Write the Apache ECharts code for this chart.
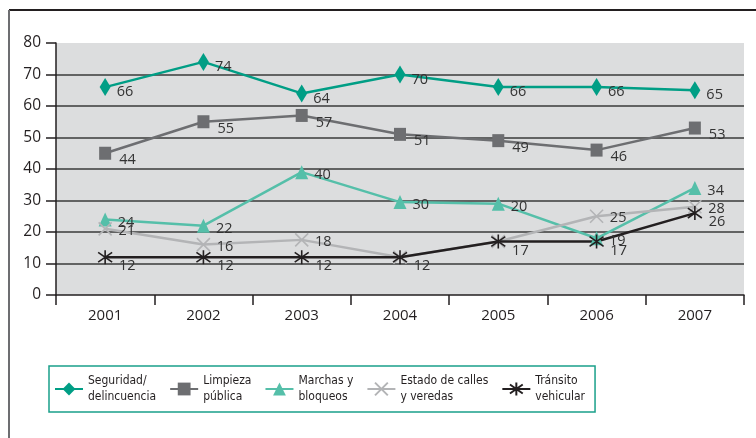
<!DOCTYPE html>
<html><head><meta charset="utf-8">
<script src="https://cdn.jsdelivr.net/npm/echarts@6/dist/echarts.min.js"></script>
<style>html,body{margin:0;padding:0;background:#fff}#c{width:756px;height:438px}</style>
</head><body><div id="c"></div>
<script>
const years = ['2001','2002','2003','2004','2005','2006','2007'];
const seguridad = [66, 74, 64, 70, 66, 66, 65];
const seguridadLabels = ['66','74','64','70','66','66','65'];
const limpieza = [45, 55, 57, 51, 49, 46, 53];
const limpiezaLabels = ['44','55','57','51','49','46','53'];
const marchas = [24, 22, 39, 29.5, 29, 18, 34];
const marchasLabels = ['24','22','40','30','20','19','34'];
const estado = [21, 16, 17.5, 12, 17, 25, 28];
const estadoLabels = ['21','16','18','','','25','28'];
const transito = [12, 12, 12, 12, 17, 17, 26];
const transitoLabels = ['12','12','12','12','17','17','26'];
const yTicks = [0, 10, 20, 30, 40, 50, 60, 70, 80];

const FONT = "'Open Sans', 'Noto Sans', sans-serif";
const NARROW = "'Liberation Sans Narrow', 'DejaVu Sans Condensed', sans-serif";

const chart = echarts.init(document.getElementById('c'), null, {renderer: 'canvas'});

function mk(name, vals, labels, color, symbol, size, offset, strokeSymbol) {
  return {
    name: name, type: 'line', data: vals,
    symbol: symbol, symbolSize: size,
    lineStyle: {color: color, width: 2.5},
    itemStyle: strokeSymbol ? {color: 'transparent', borderColor: color, borderWidth: 1.6} : {color: color},
    label: {
      show: true, position: 'right', offset: offset, distance: 4,
      fontFamily: FONT, fontSize: 14.5, color: '#333',
      formatter: p => labels[p.dataIndex]
    },
    emphasis: {disabled: true},
    z: 2
  };
}

const xPath = 'path://M0,0L10,10M10,0L0,10';
const astPath = 'path://M5,0L5,10M0,1.5L10,8.5M10,1.5L0,8.5';

chart.setOption({
  animation: false,
  backgroundColor: '#fff',
  grid: {left: 56, right: 12, top: 43, bottom: 143, show: true, backgroundColor: '#dcddde', borderWidth: 0},
  xAxis: {
    type: 'category', data: years, boundaryGap: true,
    axisLine: {show: true, lineStyle: {color: '#231f20', width: 1.5}},
    axisTick: {show: true, length: 10, alignWithLabel: false, lineStyle: {color: '#231f20', width: 1.5}},
    axisLabel: {fontFamily: FONT, fontSize: 15, color: '#231f20', margin: 13}
  },
  yAxis: {
    type: 'value', min: yTicks[0], max: yTicks[yTicks.length - 1], interval: 10,
    axisLine: {show: true, lineStyle: {color: '#231f20', width: 1.5}},
    axisTick: {show: true, length: 10, lineStyle: {color: '#231f20', width: 1.5}},
    axisLabel: {fontFamily: FONT, fontSize: 15.5, color: '#231f20', margin: 15},
    splitLine: {show: true, lineStyle: {color: ['transparent','#3a3a3a','#3a3a3a','#3a3a3a','#3a3a3a','#3a3a3a','#3a3a3a','#3a3a3a','transparent'], width: 1.5}}
  },
  legend: {
    left: 49, top: 366,
    orient: 'horizontal',
    borderColor: '#1aa08a', borderWidth: 1.5, borderRadius: 0,
    padding: [7, 10, 7, 5],
    itemGap: 13, itemWidth: 28, itemHeight: 16,
    textStyle: {fontFamily: NARROW, fontSize: 12, lineHeight: 16, color: '#231f20'},
    data: ['Seguridad/\ndelincuencia', 'Limpieza\npública', 'Marchas y\nbloqueos', 'Estado de calles\ny veredas', 'Tránsito\nvehicular']
  },
  graphic: [
    {type: 'line', shape: {x1: 9, y1: 10, x2: 756, y2: 10}, style: {stroke: '#231f20', lineWidth: 2}},
    {type: 'line', shape: {x1: 9, y1: 10, x2: 9, y2: 438}, style: {stroke: '#6d6e71', lineWidth: 2}}
  ],
  series: [
    mk('Seguridad/\ndelincuencia', seguridad, seguridadLabels, '#009e85', 'diamond', [11, 18], [2, 5], false),
    mk('Limpieza\npública', limpieza, limpiezaLabels, '#6d6e71', 'rect', [12, 13], [4, 7], false),
    mk('Marchas y\nbloqueos', marchas, marchasLabels, '#55bfa9', 'triangle', [13, 14], [2, 3], false),
    mk('Estado de calles\ny veredas', estado, estadoLabels, '#b3b4b6', xPath, 13, [2, 2], true),
    mk('Tránsito\nvehicular', transito, transitoLabels, '#231f20', astPath, 14, [2, 9], true)
  ]
});
</script></body></html>
